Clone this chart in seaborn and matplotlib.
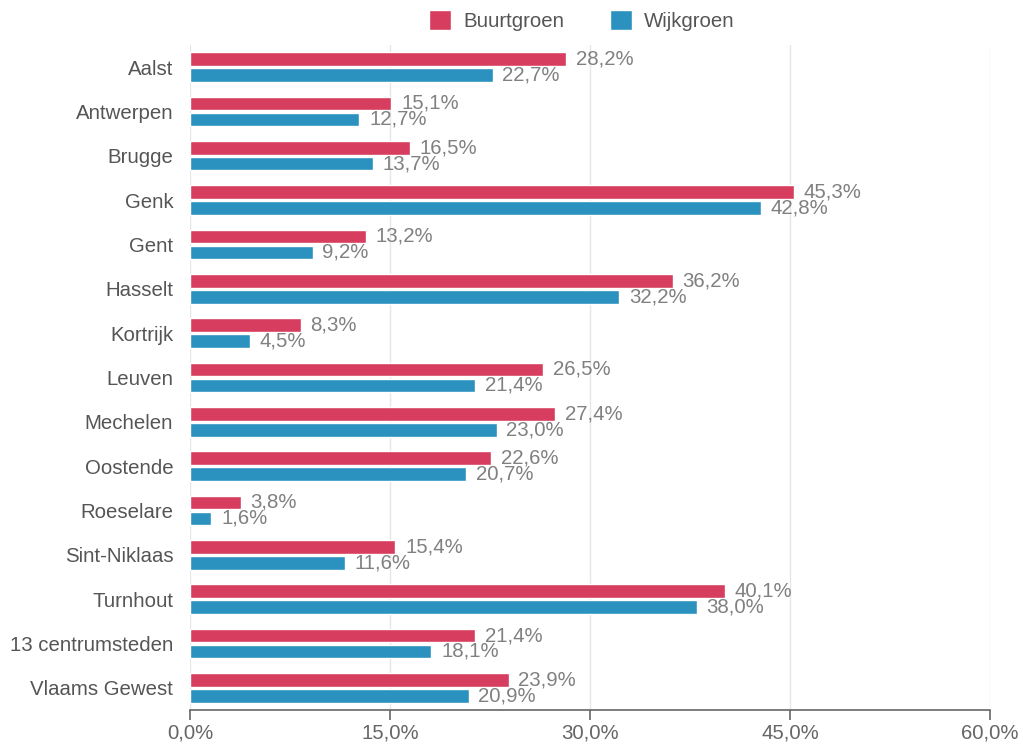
import pandas as pd
import seaborn as sns
import matplotlib.pyplot as plt
from matplotlib.ticker import FuncFormatter

# Data
steden = ["Aalst", "Antwerpen", "Brugge", "Genk", "Gent", "Hasselt", "Kortrijk",
          "Leuven", "Mechelen", "Oostende", "Roeselare", "Sint-Niklaas",
          "Turnhout", "13 centrumsteden", "Vlaams Gewest"]
buurtgroen = [28.2, 15.1, 16.5, 45.3, 13.2, 36.2, 8.3, 26.5, 27.4, 22.6, 3.8, 15.4, 40.1, 21.4, 23.9]
wijkgroen = [22.7, 12.7, 13.7, 42.8, 9.2, 32.2, 4.5, 21.4, 23.0, 20.7, 1.6, 11.6, 38.0, 18.1, 20.9]
x_ticks = [0, 15, 30, 45, 60]

df = pd.DataFrame({"stad": steden * 2,
                   "waarde": buurtgroen + wijkgroen,
                   "type": ["Buurtgroen"] * len(steden) + ["Wijkgroen"] * len(steden)})

sns.set_theme(style="white")
plt.rcParams["font.family"] = ["Liberation Sans", "DejaVu Sans"]
grey = "#666666"
fs = 14.7

fig = plt.figure(figsize=(10.23, 7.44), dpi=100)
ax = fig.add_axes([0.1857, 0.0457, 0.782, 0.894])

palette = {"Buurtgroen": "#d63d5e", "Wijkgroen": "#2b91be"}
sns.barplot(data=df, y="stad", x="waarde", hue="type", palette=palette,
            orient="h", width=0.72, gap=0.15, saturation=1, ax=ax)

# value labels
for cont in ax.containers:
    ax.bar_label(cont, labels=[f"{v:.1f}%".replace(".", ",") for v in cont.datavalues],
                 padding=7, color="#808080", fontsize=fs)

ax.set_xlim(0, 60)
ax.set_ylim(len(steden) - 0.5, -0.5)
ax.set_xticks(x_ticks)
ax.xaxis.set_major_formatter(FuncFormatter(lambda v, p: f"{v:.1f}%".replace(".", ",")))
ax.grid(axis="x", color="#e6e6e6", linewidth=1)
ax.set_axisbelow(True)
ax.set_xlabel("")
ax.set_ylabel("")
for s in ["top", "right", "left"]:
    ax.spines[s].set_visible(False)
ax.spines["bottom"].set_color(grey)
ax.spines["bottom"].set_linewidth(1.2)
ax.tick_params(axis="x", bottom=True, length=7, width=1.2, color=grey,
               labelcolor="#666666", labelsize=fs, pad=3)
ax.tick_params(axis="y", left=False, length=0, labelcolor="#555555", labelsize=fs, pad=12)

ax.legend(loc="upper center", bbox_to_anchor=(0.49, 1.08), ncol=2, frameon=False,
          fontsize=fs, labelcolor="#555555", handlelength=1.1, handleheight=1.1,
          columnspacing=2.2, handletextpad=0.6)

fig.savefig("out.png", dpi=100)
plt.close()
